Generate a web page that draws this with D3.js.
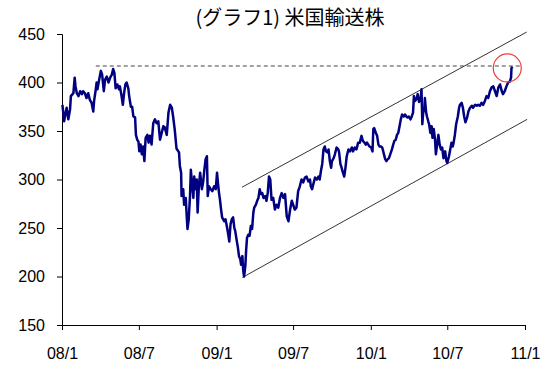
<!DOCTYPE html>
<html><head><meta charset="utf-8">
<script src="https://cdn.jsdelivr.net/npm/d3@7"></script>
<style>body{margin:0;background:#fff}</style>
</head><body><svg id="c" width="560" height="370"></svg>
<script>
const title = "(グラフ1) 米国輸送株";

const dates = [
"2008-01-02","2008-01-05","2008-01-06","2008-01-12","2008-01-16","2008-01-20","2008-01-22","2008-01-28","2008-01-31",
"2008-02-02","2008-02-05","2008-02-09","2008-02-13","2008-02-17","2008-02-20","2008-02-24","2008-02-28",
"2008-03-03","2008-03-07","2008-03-11","2008-03-15","2008-03-17","2008-03-21","2008-03-23","2008-03-25","2008-03-29",
"2008-04-02","2008-04-05","2008-04-09","2008-04-12","2008-04-16","2008-04-20","2008-04-24","2008-04-28",
"2008-05-01","2008-05-04","2008-05-07","2008-05-11","2008-05-15","2008-05-17","2008-05-21","2008-05-24","2008-05-27","2008-05-30",
"2008-06-02","2008-06-06","2008-06-08","2008-06-12","2008-06-15","2008-06-18","2008-06-22","2008-06-24","2008-06-27","2008-06-30",
"2008-07-02","2008-07-05","2008-07-08","2008-07-11","2008-07-14","2008-07-17","2008-07-21","2008-07-24","2008-07-27","2008-07-31",
"2008-08-04","2008-08-08","2008-08-12","2008-08-16","2008-08-20","2008-08-24","2008-08-28","2008-08-31",
"2008-09-05","2008-09-09","2008-09-13","2008-09-17","2008-09-20","2008-09-24","2008-09-28",
"2008-10-04","2008-10-06","2008-10-09","2008-10-10","2008-10-14","2008-10-16","2008-10-20","2008-10-22","2008-10-24","2008-10-27","2008-10-30",
"2008-11-01","2008-11-04","2008-11-07","2008-11-09","2008-11-12","2008-11-15","2008-11-17","2008-11-20","2008-11-23","2008-11-27","2008-11-30",
"2008-12-03","2008-12-06","2008-12-09","2008-12-11","2008-12-14","2008-12-18","2008-12-22","2008-12-26","2008-12-30",
"2009-01-02","2009-01-04","2009-01-07","2009-01-09","2009-01-11","2009-01-14","2009-01-19","2009-01-22","2009-01-26","2009-01-29","2009-01-31",
"2009-02-03","2009-02-06","2009-02-09","2009-02-12","2009-02-14","2009-02-18","2009-02-20","2009-02-23","2009-02-26","2009-02-28",
"2009-03-03","2009-03-05","2009-03-07","2009-03-10","2009-03-12","2009-03-14","2009-03-17","2009-03-20","2009-03-23","2009-03-26","2009-03-29","2009-03-31",
"2009-04-04","2009-04-07","2009-04-10","2009-04-13","2009-04-16","2009-04-19","2009-04-22","2009-04-26","2009-04-29",
"2009-05-02","2009-05-05","2009-05-08","2009-05-11","2009-05-15","2009-05-19","2009-05-23","2009-05-27","2009-05-31",
"2009-06-04","2009-06-08","2009-06-12","2009-06-16","2009-06-20","2009-06-24","2009-06-28",
"2009-07-01","2009-07-05","2009-07-09","2009-07-13","2009-07-17","2009-07-21","2009-07-25","2009-07-29",
"2009-08-02","2009-08-06","2009-08-10","2009-08-12","2009-08-15","2009-08-19","2009-08-22","2009-08-26","2009-08-30",
"2009-09-02","2009-09-05","2009-09-08","2009-09-11","2009-09-14","2009-09-17","2009-09-20","2009-09-23","2009-09-26","2009-09-29",
"2009-10-01","2009-10-05","2009-10-08","2009-10-12","2009-10-16","2009-10-18","2009-10-21","2009-10-24","2009-10-27","2009-10-30",
"2009-11-02","2009-11-05","2009-11-09","2009-11-13","2009-11-17","2009-11-20","2009-11-24","2009-11-28",
"2009-12-02","2009-12-06","2009-12-10","2009-12-13","2009-12-17","2009-12-20","2009-12-23","2009-12-26","2009-12-29",
"2010-01-02","2010-01-05","2010-01-07","2010-01-09","2010-01-13","2010-01-16","2010-01-19","2010-01-22","2010-01-25","2010-01-28","2010-01-31",
"2010-02-04","2010-02-07","2010-02-10","2010-02-13","2010-02-16","2010-02-20","2010-02-23","2010-02-26",
"2010-03-01","2010-03-04","2010-03-07","2010-03-10","2010-03-13","2010-03-16","2010-03-20","2010-03-23","2010-03-26","2010-03-29",
"2010-04-01","2010-04-05","2010-04-08","2010-04-11","2010-04-13","2010-04-16","2010-04-20","2010-04-22","2010-04-25","2010-04-29",
"2010-05-01","2010-05-03","2010-05-05","2010-05-08","2010-05-09","2010-05-12","2010-05-14","2010-05-17","2010-05-19","2010-05-22","2010-05-25","2010-05-27","2010-05-30",
"2010-06-02","2010-06-04","2010-06-07","2010-06-10","2010-06-13","2010-06-16","2010-06-19","2010-06-22","2010-06-26","2010-06-29",
"2010-07-01","2010-07-05","2010-07-08","2010-07-11","2010-07-14","2010-07-16","2010-07-19","2010-07-22","2010-07-26","2010-07-29","2010-07-31",
"2010-08-04","2010-08-07","2010-08-10","2010-08-13","2010-08-17","2010-08-20","2010-08-24","2010-08-28","2010-08-31",
"2010-09-05","2010-09-09","2010-09-12","2010-09-16","2010-09-20","2010-09-24","2010-09-28",
"2010-10-02","2010-10-06","2010-10-10","2010-10-14","2010-10-18","2010-10-22","2010-10-26","2010-10-30",
"2010-11-03","2010-11-07","2010-11-10","2010-11-14","2010-11-18","2010-11-22","2010-11-26","2010-11-29","2010-11-30",
"2010-12-03"
];

const values = [
377,365,360,374,362,372,386,389,405,
396,389,386,391,388,391,389,384,
389,382,379,370,381,393,400,393,403,
412,408,391,403,406,400,405,408,
414,410,394,398,393,396,386,377,389,398,
400,394,386,375,375,365,364,346,341,339,
329,336,326,334,319,343,346,338,345,336,
358,362,358,360,341,348,355,354,
346,369,377,374,365,351,332,
328,314,307,283,290,274,281,264,249,259,283,
310,295,281,303,290,300,266,293,307,290,297,
310,321,324,283,293,290,288,293,290,
307,297,285,279,271,261,257,259,250,242,236,
254,259,261,250,247,236,231,221,218,212,
221,206,200,211,228,240,243,242,252,249,266,271,
274,278,281,290,285,286,281,283,278,
286,303,300,279,281,269,274,271,281,
286,281,285,262,257,269,278,
274,269,271,288,293,300,297,302,
303,298,300,293,290,297,302,300,303,
300,309,316,331,334,329,328,331,319,312,
319,322,326,333,331,328,316,312,307,303,
312,324,331,329,333,329,333,331,
338,338,345,340,338,336,338,336,334,
333,329,352,353,348,345,336,334,334,333,328,
321,319,321,322,326,331,336,340,
341,346,348,355,362,367,365,367,365,364,
365,362,365,369,386,381,384,388,380,384,
393,357,369,374,384,369,365,360,357,348,355,343,352,
341,326,336,346,336,331,333,322,329,319,
317,324,331,338,334,338,346,357,365,374,377,
379,374,365,359,364,370,374,376,374,
377,376,377,376,379,377,381,
386,384,391,395,396,391,386,395,
398,391,388,391,396,400,401,405,415,
416
];

const yTicks = [150, 200, 250, 300, 350, 400, 450];
const xTicks = ["2008-01-01","2008-07-01","2009-01-01","2009-07-01","2010-01-01","2010-07-01","2011-01-01"];

const resistanceDates = ["2008-03-21", "2010-12-27"];
const resistanceValues = [417, 417];
const upperDates = ["2009-03-02", "2011-01-05"];
const upperValues = [292, 452];
const lowerDates = ["2009-03-03", "2011-01-06"];
const lowerValues = [199, 362];
const markerDates = ["2010-11-20"];
const markerValues = [415];

const parse = d3.timeParse("%Y-%m-%d");
const svg = d3.select("#c");

const x = d3.scaleTime().domain([parse("2008-01-01"), parse("2011-01-01")]).range([62, 525]);
const y = d3.scaleLinear().domain([150, 450]).range([325, 34]);

const FONT = "'Liberation Sans', Arial, sans-serif";

// title
svg.append("text").attr("x", 290).attr("y", 25).attr("text-anchor", "middle")
  .attr("font-family", "'Noto Sans CJK JP', sans-serif").attr("font-size", 20)
  .attr("fill", "#000").text(title);

// axes
const yAxis = svg.append("g").attr("transform", "translate(62,0)")
  .call(d3.axisLeft(y).tickValues(yTicks).tickSize(5).tickPadding(12));
const xAxis = svg.append("g").attr("transform", "translate(0,325)")
  .call(d3.axisBottom(x).tickValues(xTicks.map(parse)).tickFormat(d3.timeFormat("%y/%-m")).tickSize(5).tickPadding(18));
[yAxis, xAxis].forEach(g => {
  g.attr("font-family", FONT).attr("font-size", 16);
  g.selectAll("path,line").attr("stroke", "#000");
  g.selectAll("text").attr("fill", "#000");
});

// resistance dashed line
const seg = (ds, vs) => ds.map((d, i) => [x(parse(d)), y(vs[i])]);
svg.append("path").attr("d", d3.line()(seg(resistanceDates, resistanceValues)))
  .attr("fill", "none").attr("stroke", "#444").attr("stroke-width", 1).attr("stroke-dasharray", "4,3");

// channel lines
[[upperDates, upperValues], [lowerDates, lowerValues]].forEach(([ds, vs]) => {
  svg.append("path").attr("d", d3.line()(seg(ds, vs)))
    .attr("fill", "none").attr("stroke", "#333").attr("stroke-width", 1);
});

// price line
const pts = dates.map((d, i) => [x(parse(d)), y(values[i])]);
svg.append("path").attr("d", d3.line()(pts))
  .attr("fill", "none").attr("stroke", "#000080").attr("stroke-width", 2.5)
  .attr("stroke-linejoin", "round");

// marker circle
svg.selectAll("circle.mk").data(markerDates).enter().append("circle")
  .attr("cx", d => x(parse(d))).attr("cy", (d, i) => y(markerValues[i])).attr("r", 14)
  .attr("fill", "none").attr("stroke", "#f03c3c").attr("stroke-width", 1.2);
</script></body></html>
